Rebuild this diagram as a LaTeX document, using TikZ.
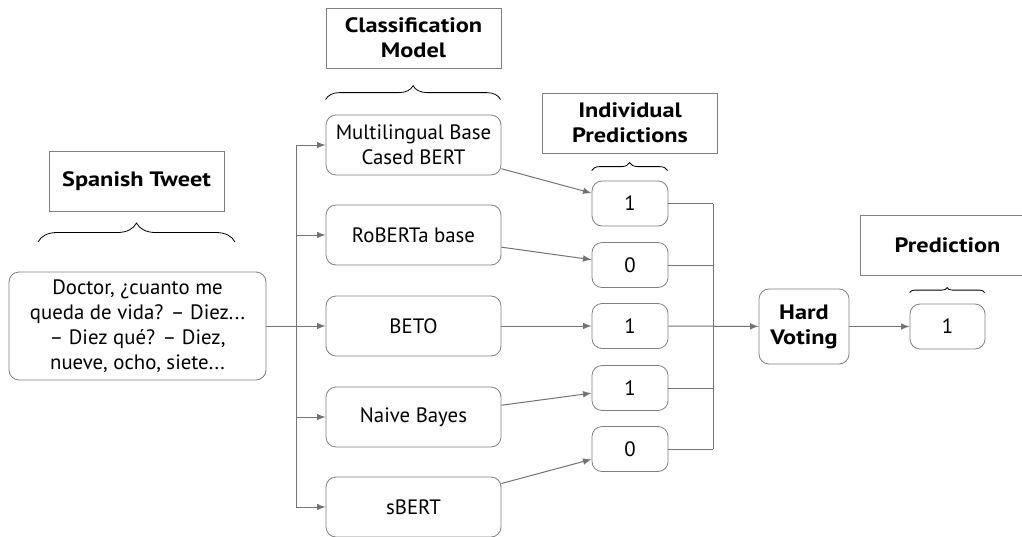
\documentclass[tikz,border=0pt]{standalone}
\usepackage{fontspec}
\setmainfont{PT Sans}[BoldFeatures={FakeStretch=1.17}]
\usepackage{tikz}
\usetikzlibrary{arrows}
\usetikzlibrary{decorations.pathreplacing}
\tikzset{box/.style={draw=gray,rounded corners=5pt,align=center,font=\fontsize{10.4}{12.5}\selectfont}}
\tikzset{model/.style={box,minimum width=87.5pt,minimum height=30pt}}
\tikzset{pred/.style={box,minimum width=38pt,minimum height=22.5pt}}
\tikzset{head/.style={draw=gray,minimum width=87.5pt,minimum height=30pt,align=center,font=\fontsize{10.4}{12.5}\selectfont\bfseries}}
\tikzset{line/.style={draw=gray!90!black,line width=0.5pt}}
\tikzset{conn/.style={line,-latex}}
\tikzset{curly/.style={decorate,decoration={brace,amplitude=#1}}}

\begin{document}
\begin{tikzpicture}[x=0.5pt,y=-0.5pt]
  \clip (0,0) rectangle (1022,536);
  % headers
  \node[head] (htweet) at (136.5,181) {Spanish Tweet};
  \node[head] (hmodel) at (413.5,38) {Classification\\Model};
  \node[head] (hind) at (630,123) {Individual\\Predictions};
  \node[head] (hpred) at (947.5,245) {Prediction};
  % input
  \node[box,minimum width=128.5pt,minimum height=54pt] (tweet) at (137.5,326)
    {Doctor, ¿cuanto me\\queda de vida? – Diez...\\– Diez qué? – Diez,\\nueve, ocho, siete...};
  % models
  \node[model] (m1) at (413.5,145) {Multilingual Base\\Cased BERT};
  \node[model] (m2) at (413.5,235) {RoBERTa base};
  \node[model] (m3) at (413.5,326) {BETO};
  \node[model] (m4) at (413.5,417) {Naive Bayes};
  \node[model] (m5) at (413.5,507) {sBERT};
  % individual predictions
  \node[pred] (p1) at (630,203.5) {1};
  \node[pred] (p2) at (630,265) {0};
  \node[pred] (p3) at (630,326) {1};
  \node[pred] (p4) at (630,388) {1};
  \node[pred] (p5) at (630,449) {0};
  % voting
  \node[box,font=\fontsize{10.4}{12.5}\selectfont\bfseries,minimum width=45pt,minimum height=37.5pt] (vote) at (804,326.5) {Hard\\Voting};
  \node[pred,minimum width=37.5pt] (final) at (947.5,326.5) {1};
  \coordinate (trunk) at (296,326);
  \coordinate (col) at (713,326);
  % braces
  \draw[curly=9.5pt] (38,242) -- (235,242);
  \draw[curly=7pt] (m1.north west)++(0,-15) -- ++(175,0);
  \draw[curly=4pt] (p1.north west)++(0,-10) -- ++(76,0);
  \draw[curly=2.5pt] (final.north west)++(0,-11) -- ++(75,0);
  % connectors
  \draw[conn] (tweet) -- (m3);
  \draw[line] (trunk|-m1) -- (trunk|-m5);
  \foreach \i in {1,2,4,5}
    \draw[conn] (trunk|-m\i) -- (m\i);
  \foreach \i in {1,...,5}
    \draw[conn] (m\i) -- (p\i);
  \foreach \i in {1,2,4,5}
    \draw[line] (p\i) -- (col|-p\i);
  \draw[line] (col|-p1) -- (col|-p5);
  \draw[conn] (p3) -- (vote);
  \draw[conn] (vote) -- (final);
\end{tikzpicture}
\end{document}
